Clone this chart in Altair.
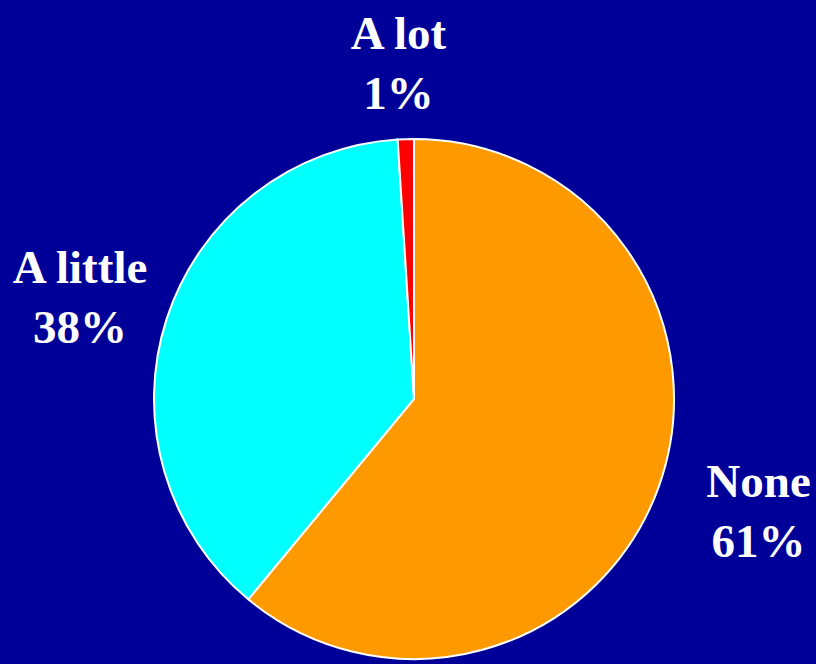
import altair as alt
import pandas as pd

categories = ["None", "A little", "A lot"]
values = [61, 38, 1]
colors = ["#FF9900", "#00FFFF", "#FF0000"]
order_idx = [0, 1, 2]

df = pd.DataFrame({"category": categories, "value": values, "ord": order_idx})

base = alt.Chart(df).encode(
    theta=alt.Theta("value:Q", stack=True),
    order=alt.Order("ord:Q"),
    x=alt.value(414),
    y=alt.value(399),
)

pie = base.mark_arc(outerRadius=260, stroke="white", strokeWidth=2).encode(
    color=alt.Color("category:N", scale=alt.Scale(domain=categories, range=colors), legend=None)
)

def label_layer(cat, radius, dx, dy):
    return base.transform_calculate(
        label="datum.category + '\\n' + datum.value + '%'"
    ).mark_text(
        radius=radius, dx=dx, dy=dy, font="Liberation Serif", fontWeight="bold",
        fontSize=47, color="white", lineBreak="\n", lineHeight=60,
        align="center", baseline="middle"
    ).encode(
        text="label:N",
        opacity=alt.condition(alt.datum.category == cat, alt.value(1), alt.value(0)),
    )

chart = alt.layer(
    pie,
    label_layer("A lot", 335, -5, -29),
    label_layer("A little", 349, -2, -22),
    label_layer("None", 363, 3, -39),
).properties(
    width=816, height=664, background="#000099", padding=0,
    autosize=alt.AutoSizeParams(type="none"),
).configure_view(strokeWidth=0)

chart.save("out.html", embed_options={"renderer": "svg", "actions": False})
